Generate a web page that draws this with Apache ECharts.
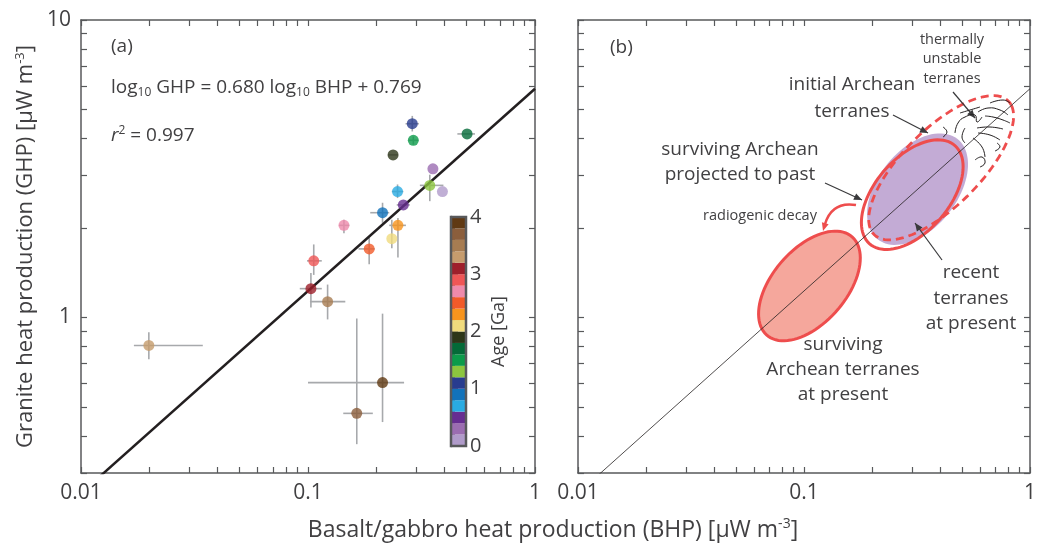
<!DOCTYPE html>
<html>
<head>
<meta charset="utf-8">
<script src="https://cdn.jsdelivr.net/npm/echarts@6/dist/echarts.min.js"></script>
<style>
html, body { margin: 0; padding: 0; background: #fff; }
#chart { width: 1039px; height: 547px; }
</style>
</head>
<body>
<div id="chart"></div>
<script>
// ---- data ----
// panel (a): one point per terrane
var bhp      = [0.288, 0.291, 0.502, 0.237, 0.355, 0.344, 0.391, 0.248, 0.263, 0.213, 0.144, 0.249, 0.234, 0.186, 0.106, 0.103, 0.122, 0.0199, 0.164, 0.213];
var ghp      = [4.48, 3.94, 4.14, 3.52, 3.16, 2.78, 2.65, 2.65, 2.39, 2.25, 2.04, 2.04, 1.84, 1.70, 1.55, 1.25, 1.13, 0.805, 0.476, 0.604];
var age      = [1.1, 1.5, 1.7, 1.9, 0.3, 1.3, 0.1, 0.7, 0.5, 0.9, 2.7, 2.3, 2.1, 2.5, 2.9, 3.1, 3.5, 3.3, 3.7, 3.9];
var bhpLow   = [0.269, 0.277, 0.455, 0.225, 0.355, 0.311, 0.391, 0.234, 0.246, 0.188, 0.137, 0.228, 0.234, 0.167, 0.099, 0.092, 0.102, 0.0171, 0.143, 0.100];
var bhpHigh  = [0.308, 0.306, 0.544, 0.249, 0.355, 0.395, 0.391, 0.263, 0.281, 0.228, 0.152, 0.270, 0.234, 0.197, 0.115, 0.115, 0.146, 0.0344, 0.193, 0.265];
var ghpLow   = [4.22, 3.81, 4.14, 3.52, 3.16, 2.46, 2.65, 2.52, 2.39, 2.08, 1.92, 1.59, 1.71, 1.51, 1.39, 1.08, 0.985, 0.723, 0.375, 0.445];
var ghpHigh  = [4.76, 4.06, 4.14, 3.52, 3.16, 3.02, 2.65, 2.80, 2.39, 2.43, 2.13, 2.16, 2.13, 1.85, 1.76, 1.41, 1.29, 0.891, 0.992, 1.03];

// age colour scale, 0.2 Ga steps from 0 to 4 Ga
var ageStep = 0.2;
var ageColors = ['#B09BCA', '#9B6DB1', '#662D91', '#29ABE2', '#1272BA', '#283C8F', '#8CC63F', '#0B9B4A', '#046A38', '#2D3619',
                 '#F0DB7D', '#F7941D', '#F15A29', '#EE8AAB', '#EF5656', '#9E1F2B', '#C69C6D', '#A77C51', '#8B5E3C', '#603913'];

// regression: log10 GHP = 0.680 log10 BHP + 0.769
var fitSlope = 0.680;
var fitIntercept = 0.769;
var fitX = [0.01, 1];

// tick marks / labels
var xTicks = [0.01, 0.02, 0.03, 0.04, 0.05, 0.06, 0.07, 0.08, 0.09, 0.1, 0.2, 0.3, 0.4, 0.5, 0.6, 0.7, 0.8, 0.9, 1];
var xLabels = [0.01, 0.1, 1];
var yTicks = [0.3, 0.4, 0.5, 0.6, 0.7, 0.8, 0.9, 1, 2, 3, 4, 5, 6, 7, 8, 9, 10];
var yLabels = [1, 10];

// panel (b): schematic ellipses (centre in data units, semi-axes in decades)
var ellipseCx   = [0.1057, 0.318, 0.3013, 0.4045];
var ellipseCy   = [1.276, 2.70, 2.587, 3.187];
var ellipseA    = [0.255, 0.250, 0.255, 0.375];
var ellipseB    = [0.140, 0.150, 0.140, 0.145];

var FONT = "'Open Sans', 'Noto Sans', sans-serif";
var TXT = '#414042';
var AXC = '#58595B';
var RED = '#EE4D4D';

function fitY(x) { return Math.pow(10, fitSlope * Math.log10(x) + fitIntercept); }
function ageColor(a) { return ageColors[Math.min(ageColors.length - 1, Math.floor(a / ageStep))]; }

function logAxis(grid, pos, min, max, ticks, labels) {
	return {
		type: 'log', gridIndex: grid, position: pos, min: min, max: max, logBase: 10,
		axisLine: { show: true, lineStyle: { color: AXC, width: 1.5 } },
		axisTick: { show: true, inside: true, length: 6, customValues: ticks, lineStyle: { color: AXC, width: 1.2 } },
		axisLabel: labels ? { show: true, customValues: labels, fontSize: 21, color: TXT, fontFamily: FONT, margin: 10 } : { show: false },
		splitLine: { show: false }
	};
}

var myChart = echarts.init(document.getElementById('chart'));

// error bars
function errorBarItem(params, api) {
	var x = api.value(0), y = api.value(1);
	var h1 = api.coord([api.value(2), y]), h2 = api.coord([api.value(3), y]);
	var v1 = api.coord([x, api.value(4)]), v2 = api.coord([x, api.value(5)]);
	var st = { stroke: '#A7A9AC', lineWidth: 1.6 };
	return { type: 'group', children: [
		{ type: 'line', shape: { x1: h1[0], y1: h1[1], x2: h2[0], y2: h2[1] }, style: st },
		{ type: 'line', shape: { x1: v1[0], y1: v1[1], x2: v2[0], y2: v2[1] }, style: st }
	] };
}

// ellipse in log space, major axis along the regression line
function ellipseItem(params, api) {
	var i = params.dataIndex;
	var n = Math.sqrt(1 + fitSlope * fitSlope);
	var du = [1 / n, fitSlope / n], pu = [-fitSlope / n, 1 / n];
	var lu = Math.log10(ellipseCx[i]), lv = Math.log10(ellipseCy[i]);
	var pts = [];
	for (var k = 0; k < 90; k++) {
		var t = k / 90 * Math.PI * 2;
		var u = lu + ellipseA[i] * Math.cos(t) * du[0] + ellipseB[i] * Math.sin(t) * pu[0];
		var v = lv + ellipseA[i] * Math.cos(t) * du[1] + ellipseB[i] * Math.sin(t) * pu[1];
		pts.push(api.coord([Math.pow(10, u), Math.pow(10, v)]));
	}
	var styles = [
		{ fill: '#F5A79C', stroke: RED, lineWidth: 3 },
		{ fill: '#C3ABD5', stroke: null },
		{ fill: null, stroke: RED, lineWidth: 3 },
		{ fill: null, stroke: RED, lineWidth: 2.8, lineDash: [8, 5] }
	];
	return { type: 'polygon', shape: { points: pts }, style: styles[i] };
}

// colour bar cells
function colorbarItem(params, api) {
	var p1 = api.coord([0, api.value(0)]), p2 = api.coord([1, api.value(1)]);
	var kids = [{ type: 'rect', shape: { x: p1[0], y: p2[1], width: p2[0] - p1[0], height: p1[1] - p2[1] }, style: { fill: ageColors[params.dataIndex] } }];
	if (params.dataIndex === ageColors.length - 1) {
		var a = api.coord([0, 0]), b = api.coord([1, ageColors.length * ageStep]);
		kids.push({ type: 'rect', shape: { x: a[0], y: b[1], width: b[0] - a[0], height: a[1] - b[1] }, style: { fill: null, stroke: AXC, lineWidth: 2.5 } });
	}
	return { type: 'group', children: kids };
}

var points = [], errs = [];
for (var i = 0; i < bhp.length; i++) {
	points.push({ value: [bhp[i], ghp[i]], itemStyle: { color: ageColor(age[i]) } });
	errs.push([bhp[i], ghp[i], bhpLow[i], bhpHigh[i], ghpLow[i], ghpHigh[i]]);
}
var fitData = fitX.map(function(x) { return [x, fitY(x)]; });
var cbData = ageColors.map(function(c, i) { return [i * ageStep, (i + 1) * ageStep]; });
var ellData = ellipseCx.map(function(x, i) { return [x, ellipseCy[i]]; });

// annotation helpers
function txt(s, x, y, size, align) {
	return { type: 'text', x: x, y: y, z: 100, style: { text: '{t|' + s + '}', align: align || 'center', verticalAlign: 'middle', textAlign: align || 'center', textVerticalAlign: 'middle',
		rich: { t: { fontSize: size, fontFamily: FONT, fontStyle: 'normal', fontWeight: 'normal', fill: TXT } } } };
}
function arrowHead(x1, y1, x2, y2, color) {
	var ang = Math.atan2(y2 - y1, x2 - x1), L = 8, W = 3.5;
	var bx = x2 - L * Math.cos(ang), by = y2 - L * Math.sin(ang);
	return { type: 'polygon', z: 100, shape: { points: [[x2, y2], [bx - W * Math.sin(ang), by + W * Math.cos(ang)], [bx + W * Math.sin(ang), by - W * Math.cos(ang)]] }, style: { fill: color } };
}
function arrow(x1, y1, x2, y2) {
	return [
		{ type: 'line', z: 100, shape: { x1: x1, y1: y1, x2: x2, y2: y2 }, style: { stroke: '#3A3A3C', lineWidth: 1.2 } },
		arrowHead(x1, y1, x2, y2, '#3A3A3C')
	];
}
var squiggles = [
	[[955, 133], [958, 123], [965, 117], [975, 115], [977, 122], [982, 117]],
	[[978, 112], [988, 108], [1000, 110], [1008, 115]],
	[[985, 116], [993, 117], [1003, 120], [1010, 123]],
	[[977, 128], [990, 127], [1003, 129]],
	[[978, 133], [990, 135], [1000, 140]],
	[[973, 138], [982, 147], [985, 157]],
	[[943, 127], [947, 132], [943, 137]],
	[[965, 128], [962, 137], [965, 143]],
	[[975, 160], [982, 157], [985, 163], [980, 167]],
	[[997, 143], [1000, 147], [995, 151]],
	[[960, 113], [970, 110], [980, 107]],
	[[990, 103], [1003, 100], [1010, 103]]
];

var graphics = [
	txt('(a)', 111, 47, 19, 'left'),
	{ type: 'text', x: 111, y: 88, z: 100, style: { text: '{n|log}{s|10}{n| GHP = 0.680 log}{s|10}{n| BHP + 0.769}', align: 'left', verticalAlign: 'middle', textAlign: 'left', textVerticalAlign: 'middle',
		rich: { n: { fontSize: 19, fontFamily: FONT, fill: TXT }, s: { fontSize: 12, fontFamily: FONT, fill: TXT, padding: [10, 0, 0, 0] } } } },
	{ type: 'text', x: 111, y: 136, z: 100, style: { text: '{i|r}{p|2}{n| = 0.997}', align: 'left', verticalAlign: 'middle', textAlign: 'left', textVerticalAlign: 'middle',
		rich: { i: { fontSize: 19, fontFamily: FONT, fontStyle: 'italic', fill: TXT }, p: { fontSize: 12, fontFamily: FONT, fontStyle: 'normal', fill: TXT, padding: [0, 0, 10, 0] }, n: { fontSize: 19, fontFamily: FONT, fontStyle: 'normal', fill: TXT } } } },
	{ type: 'text', x: 553, y: 530, z: 100, style: { text: '{n|Basalt/gabbro heat production (BHP) [μW m}{p|-3}{n|]}', align: 'center', verticalAlign: 'middle', textAlign: 'center', textVerticalAlign: 'middle',
		rich: { n: { fontSize: 23, fontFamily: FONT, fill: TXT }, p: { fontSize: 14, fontFamily: FONT, fill: TXT, padding: [0, 0, 11, 0] } } } },
	txt('(b)', 610, 48, 19, 'left'),
	txt('thermally', 952, 40, 14.5), txt('unstable', 952, 59, 14.5), txt('terranes', 952, 79, 14.5),
	txt('initial Archean', 852, 85, 19), txt('terranes', 852, 112, 19),
	txt('surviving Archean', 740, 150, 19), txt('projected to past', 740, 175, 19),
	txt('radiogenic decay', 760, 216, 14.5),
	txt('recent', 971, 273, 19), txt('terranes', 971, 299, 19), txt('at present', 971, 324, 19),
	txt('surviving', 843, 345, 19), txt('Archean terranes', 843, 370, 19), txt('at present', 843, 395, 19),
	{ type: 'bezierCurve', z: 100, shape: { x1: 856, y1: 205, cpx1: 832, cpy1: 201, x2: 825, y2: 224 }, style: { stroke: RED, lineWidth: 2.5, fill: null } },
	arrowHead(828, 214, 823, 231, RED)
];
graphics = graphics.concat(arrow(893, 115, 928, 133), arrow(953, 92, 975, 118), arrow(825, 183, 862, 200), arrow(942, 260, 915, 223));
squiggles.forEach(function(s) {
	graphics.push({ type: 'polyline', z: 100, shape: { points: s, smooth: 0.5 }, style: { stroke: '#231F20', lineWidth: 1, fill: null } });
});

var yA = logAxis(0, 'left', 0.3, 10, yTicks, yLabels);
yA.name = 'Granite heat production (GHP) [μW m{p|-3}]';
yA.nameLocation = 'middle';
yA.nameGap = 44;
yA.nameRotate = 90;
yA.nameTextStyle = { fontSize: 22, color: TXT, fontFamily: FONT, rich: { p: { fontSize: 13, color: TXT, fontFamily: FONT, padding: [0, 0, 10, 0] } } };

var option = {
	backgroundColor: '#fff',
	animation: false,
	textStyle: { fontFamily: FONT },
	grid: [
		{ left: 81, top: 20, width: 454, height: 453 },
		{ left: 578, top: 20, width: 453, height: 453 },
		{ left: 451, top: 217, width: 15, height: 229 }
	],
	xAxis: [
		logAxis(0, 'bottom', 0.01, 1, xTicks, xLabels),
		logAxis(0, 'top', 0.01, 1, xTicks, null),
		logAxis(1, 'bottom', 0.01, 1, xTicks, xLabels),
		logAxis(1, 'top', 0.01, 1, xTicks, null),
		{ type: 'value', gridIndex: 2, min: 0, max: 1, show: false }
	],
	yAxis: [
		yA,
		logAxis(0, 'right', 0.3, 10, yTicks, null),
		logAxis(1, 'left', 0.3, 10, yTicks, null),
		logAxis(1, 'right', 0.3, 10, yTicks, null),
		{
			type: 'value', gridIndex: 2, position: 'right', min: 0, max: 4, interval: 1,
			name: 'Age [Ga]', nameLocation: 'middle', nameRotate: 90, nameGap: 24,
			nameTextStyle: { fontSize: 18, color: TXT, fontFamily: FONT },
			axisLine: { show: true, lineStyle: { color: AXC, width: 2.5 } },
			axisTick: { show: true, inside: false, length: 7, lineStyle: { color: AXC, width: 1.5 } },
			minorTick: { show: true, splitNumber: 5, length: 4, lineStyle: { color: AXC, width: 1.5 } },
			axisLabel: { fontSize: 20, color: TXT, fontFamily: FONT, margin: 4 },
			splitLine: { show: false }
		}
	],
	series: [
		{ type: 'custom', xAxisIndex: 0, yAxisIndex: 0, renderItem: errorBarItem, data: errs, encode: { x: 0, y: 1 }, z: 2, silent: true },
		{ type: 'line', xAxisIndex: 0, yAxisIndex: 0, data: fitData, symbol: 'none', lineStyle: { color: '#231F20', width: 2.5 }, z: 3, clip: true },
		{ type: 'scatter', xAxisIndex: 0, yAxisIndex: 0, data: points, symbolSize: 11, z: 4 },
		{ type: 'custom', xAxisIndex: 4, yAxisIndex: 4, renderItem: colorbarItem, data: cbData, encode: { y: [0, 1] }, z: 2 },
		{ type: 'custom', xAxisIndex: 2, yAxisIndex: 2, renderItem: ellipseItem, data: ellData, encode: { x: 0, y: 1 }, z: 2, clip: false },
		{ type: 'line', xAxisIndex: 2, yAxisIndex: 2, data: fitData, symbol: 'none', lineStyle: { color: '#231F20', width: 0.8 }, z: 5, clip: true }
	],
	graphic: { elements: graphics }
};
myChart.setOption(option);
window.onresize = myChart.resize;
</script>
</body>
</html>
